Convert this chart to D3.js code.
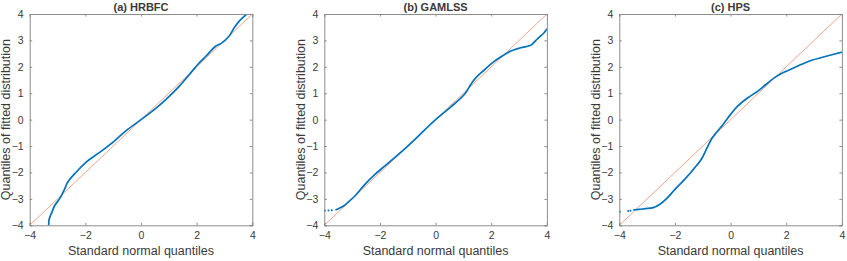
<!DOCTYPE html>
<html>
<head>
<meta charset="utf-8">
<script src="https://cdn.jsdelivr.net/npm/d3@7"></script>
<style>
  body { margin: 0; background: #fff; }
  svg text { font-family: "Liberation Sans", Arial, sans-serif; fill: #3a3a3a; }
</style>
</head>
<body>
<svg id="chart" width="847" height="261"></svg>
<script>
'use strict';

// panel titles
var titles = ['(a) HRBFC', '(b) GAMLSS', '(c) HPS'];
var tickValues = [-4, -2, 0, 2, 4];
var yTickValues = [-4, -3, -2, -1, 0, 1, 2, 3, 4];

// [standard normal quantile, fitted quantile]
var hrbfcCurve = [
    [-3.34, -4.2], [-3.32, -4.0], [-3.3, -3.77], [-3.2, -3.5], [-3.11, -3.27],
    [-2.9, -2.95], [-2.75, -2.64], [-2.63, -2.36], [-2.34, -2.0], [-1.95, -1.59],
    [-1.5, -1.25], [-0.96, -0.81], [-0.48, -0.37], [0, 0], [0.42, 0.33],
    [0.9, 0.77], [1.38, 1.27], [1.74, 1.71], [2.04, 2.09], [2.34, 2.41],
    [2.69, 2.79], [2.87, 2.88], [3.17, 3.17], [3.35, 3.48], [3.53, 3.73],
    [3.75, 3.95], [3.8, 4.0]
];
var hrbfcTail = [];

var gamlssCurve = [
    [-3.6, -3.42], [-3.49, -3.37], [-3.31, -3.27], [-3.13, -3.11], [-2.9, -2.89],
    [-2.54, -2.45], [-2.18, -2.07], [-1.82, -1.75], [-1.0, -1.0], [0, 0],
    [0.56, 0.49], [1.04, 0.96], [1.27, 1.34], [1.45, 1.59], [1.75, 1.88],
    [2.05, 2.16], [2.35, 2.38], [2.71, 2.6], [3.06, 2.72], [3.42, 2.82],
    [3.52, 2.91], [3.66, 3.06], [3.9, 3.29], [4.0, 3.44]
];
var gamlssTail = [[-3.98, -3.44], [-3.85, -3.44], [-3.73, -3.43]];

var hpsCurve = [
    [-3.5, -3.42], [-3.3, -3.4], [-3.08, -3.37], [-2.78, -3.33], [-2.54, -3.2],
    [-2.3, -2.99], [-2.0, -2.64], [-1.65, -2.26], [-1.29, -1.82], [-1.05, -1.5],
    [-0.87, -1.12], [-0.69, -0.74], [-0.51, -0.49], [-0.27, -0.18], [0, 0.2],
    [0.26, 0.52], [0.62, 0.83], [0.98, 1.08], [1.28, 1.34], [1.58, 1.59],
    [1.93, 1.8], [2.41, 2.03], [2.89, 2.24], [3.37, 2.38], [4.0, 2.56]
];
var hpsTail = [[-3.98, -3.49], [-3.68, -3.46], [-3.6, -3.45]];

var panels = [
    { title: titles[0], curve: hrbfcCurve, tail: hrbfcTail },
    { title: titles[1], curve: gamlssCurve, tail: gamlssTail },
    { title: titles[2], curve: hpsCurve, tail: hpsTail }
];

var lefts = [29.7, 324.3, 619.3];
var plotTop = 14, w = 222.6, h = 211.3;

var svg = d3.select('#chart');

panels.forEach(function (p, i) {
    var x = d3.scaleLinear().domain([-4, 4]).range([0, w]);
    var y = d3.scaleLinear().domain([-4, 4]).range([h, 0]);

    var g = svg.append('g').attr('transform', 'translate(' + lefts[i] + ',' + plotTop + ')');

    var clipId = 'clip' + i;
    g.append('clipPath').attr('id', clipId)
        .append('rect').attr('width', w).attr('height', h);

    // reference line
    g.append('line')
        .attr('x1', x(-4)).attr('y1', y(-4))
        .attr('x2', x(4)).attr('y2', y(4))
        .attr('stroke', '#ee9a7c')
        .attr('stroke-width', 0.9);

    var line = d3.line()
        .x(function (d) { return x(d[0]); })
        .y(function (d) { return y(d[1]); })
        .curve(d3.curveCatmullRom);

    g.append('path')
        .datum(p.curve)
        .attr('clip-path', 'url(#' + clipId + ')')
        .attr('d', line)
        .attr('fill', 'none')
        .attr('stroke', '#0072BD')
        .attr('stroke-width', 1.7);

    g.selectAll('.tail')
        .data(p.tail)
        .enter().append('circle')
        .attr('class', 'tail')
        .attr('cx', function (d) { return x(d[0]); })
        .attr('cy', function (d) { return y(d[1]); })
        .attr('r', 1)
        .attr('fill', '#0072BD');

    // axes
    var xAxis = d3.axisBottom(x).tickValues(tickValues).tickSize(-2.5).tickPadding(6)
        .tickFormat(d3.format('d'));
    var yAxis = d3.axisLeft(y).tickValues(yTickValues).tickSize(-2.5).tickPadding(6)
        .tickFormat(d3.format('d'));

    var gx = g.append('g').attr('transform', 'translate(0,' + h + ')').call(xAxis);
    var gy = g.append('g').call(yAxis);
    g.append('g').call(d3.axisTop(x).tickValues(tickValues).tickSize(-2.5).tickFormat(''));
    g.append('g').attr('transform', 'translate(' + w + ',0)')
        .call(d3.axisRight(y).tickValues(yTickValues).tickSize(-2.5).tickFormat(''));

    g.selectAll('.domain').attr('stroke', '#8c8c8c').attr('stroke-width', 1);
    g.selectAll('.tick line').attr('stroke', '#8c8c8c');
    [gx, gy].forEach(function (a) {
        a.selectAll('text')
            .style('font-size', '10.5px')
            .attr('fill', '#3a3a3a');
    });
    gx.selectAll('text').attr('dy', '0.71em');

    g.append('text')
        .attr('x', w / 2)
        .attr('y', -3)
        .attr('text-anchor', 'middle')
        .style('font-size', '11px')
        .style('font-weight', 'bold')
        .attr('fill', '#1a1a1a')
        .text(p.title);

    g.append('text')
        .attr('x', w / 2)
        .attr('y', h + 30)
        .attr('text-anchor', 'middle')
        .style('font-size', '12.5px')
        .text('Standard normal quantiles');

    g.append('text')
        .attr('transform', 'translate(-19.5,' + (h / 2) + ') rotate(-90)')
        .attr('text-anchor', 'middle')
        .style('font-size', '12.5px')
        .text('Quantiles of fitted distribution');
});
</script>
</body>
</html>
